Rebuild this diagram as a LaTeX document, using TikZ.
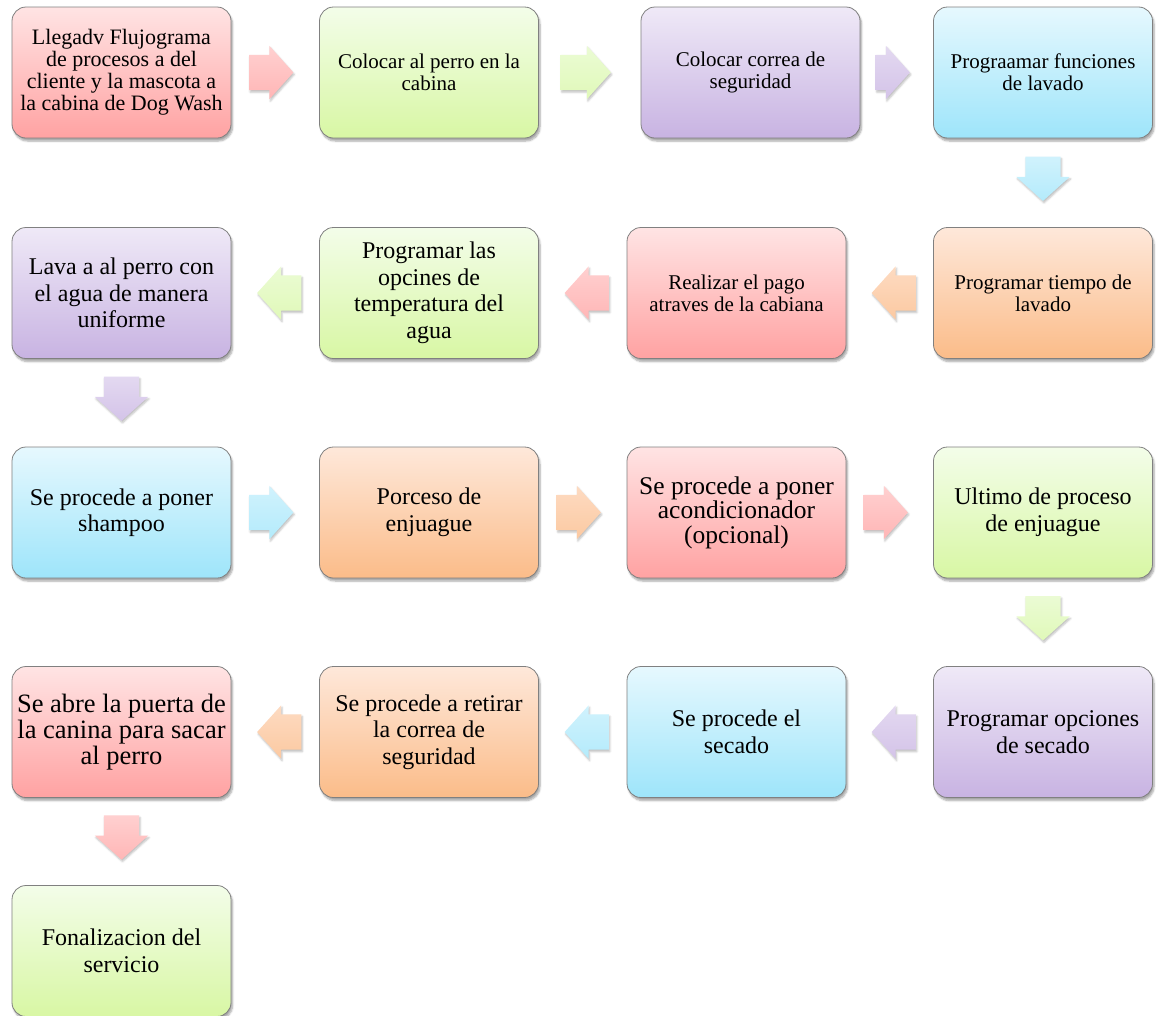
\documentclass[tikz,border=0pt]{standalone}
\usepackage{fontspec}
\setmainfont{Liberation Serif}
\usepackage{tikz}
\usetikzlibrary{positioning, calc, shapes.arrows, shadows.blur}
\usepackage{xcolor}

\definecolor{redtop}{HTML}{FFE4E4}
\definecolor{redbot}{HTML}{FFA2A2}
\definecolor{grntop}{HTML}{F3FDE9}
\definecolor{grnbot}{HTML}{D8F7A4}
\definecolor{purtop}{HTML}{EFE9F7}
\definecolor{purbot}{HTML}{C8B3E2}
\definecolor{blutop}{HTML}{E6F8FE}
\definecolor{blubot}{HTML}{9EE5FA}
\definecolor{orgtop}{HTML}{FEE8DA}
\definecolor{orgbot}{HTML}{FBBC89}

\tikzset{
  box/.style={draw=black!50, line width=0.8pt, rounded corners=14pt,
    minimum width=219pt, minimum height=131pt, inner sep=3pt, align=center,
    font=\fontsize{24}{26.5}\selectfont,
    blur shadow={shadow xshift=1.5pt, shadow yshift=-3pt, shadow blur steps=6, shadow opacity=35}},
  txtsm/.style={font=\fontsize{21}{22}\selectfont},
  txtfirst/.style={font=\fontsize{22}{22}\selectfont},
  txtlg/.style={font=\fontsize{25.5}{24.5}\selectfont},
  txtxl/.style={font=\fontsize{26.5}{26}\selectfont},
  redbox/.style={box, top color=redtop, bottom color=redbot},
  grnbox/.style={box, top color=grntop, bottom color=grnbot},
  purbox/.style={box, top color=purtop, bottom color=purbot},
  blubox/.style={box, top color=blutop, bottom color=blubot},
  orgbox/.style={box, top color=orgtop, bottom color=orgbot},
  % shaft 35 wide, head 53 wide, head about 24 long
  arr/.style={single arrow, single arrow head extend=9pt, single arrow tip angle=96,
    inner xsep=14pt, inner ysep=17.5pt,
    blur shadow={shadow xshift=1pt, shadow yshift=-2pt, shadow blur steps=4, shadow opacity=25}},
  redarr/.style={arr, top color=redtop!70!redbot, bottom color=redbot!70!redtop},
  grnarr/.style={arr, top color=grntop!70!grnbot, bottom color=grnbot!70!grntop},
  purarr/.style={arr, top color=purtop!70!purbot, bottom color=purbot!70!purtop},
  bluarr/.style={arr, top color=blutop!70!blubot, bottom color=blubot!70!blutop},
  orgarr/.style={arr, top color=orgtop!70!orgbot, bottom color=orgbot!70!orgtop},
  toright/.style={xshift=-12pt},
  toleft/.style={shape border rotate=180, xshift=12pt},
  todown/.style={shape border rotate=270, inner xsep=17.5pt, inner ysep=14pt, yshift=12pt},
}

\begin{document}
\begin{tikzpicture}[x=1pt, y=-1pt]
    \useasboundingbox (0,0) rectangle (1156,1015);

    % Row 1
    \node[redbox, txtfirst] (b1) at (121.5,72.5) {Llegadv Flujograma\\de procesos a del\\cliente y la mascota a\\la cabina de Dog Wash};
    \node[grnbox, txtsm] (b2) at (429,72.5) {Colocar al perro en la\\cabina};
    \node[purbox, txtsm] (b3) at (750.5,72.5) {Colocar correa de\\seguridad};
    \node[blubox, txtsm] (b4) at (1043,72.5) {Prograamar funciones\\de lavado};

    % Row 2
    \node[orgbox, txtsm] (b5) at (1043,293) {Programar tiempo de\\lavado};
    \node[redbox, txtsm] (b6) at (736.5,293) {Realizar el pago\\atraves de la cabiana};
    \node[grnbox] (b7) at (429,293) {Programar las\\opcines de\\temperatura del\\agua};
    \node[purbox] (b8) at (121.5,293) {Lava a al perro con\\el agua de manera\\uniforme};

    % Row 3
    \node[blubox] (b9) at (121.5,512.5) {Se procede a poner\\shampoo};
    \node[orgbox] (b10) at (429,512.5) {Porceso de\\enjuague};
    \node[redbox, txtlg] (b11) at (736.5,512.5) {Se procede a poner\\acondicionador\\(opcional)};
    \node[grnbox] (b12) at (1043,512.5) {Ultimo de proceso\\de enjuague};

    % Row 4
    \node[purbox] (b13) at (1043,732) {Programar opciones\\de secado};
    \node[blubox] (b14) at (736.5,732) {Se procede el\\secado};
    \node[orgbox] (b15) at (429,732) {Se procede a retirar\\la correa de\\seguridad};
    \node[redbox, txtxl] (b16) at (121.5,732) {Se abre la puerta de\\la canina para sacar\\al perro};

    % Row 5
    \node[grnbox] (b17) at (121.5,951) {Fonalizacion del\\servicio};

    % Block arrows
    \node[redarr, toright] (a1) at ($(b1.east)!0.5!(b2.west)$) {};
    \node[grnarr, toright, inner xsep=17pt] (a2) at ($(b2.east)!0.5!(b3.west)$) {};
    \node[purarr, toright, inner xsep=9pt] (a3) at ($(b3.east)!0.5!(b4.west)$) {};
    \node[bluarr, todown] (a4) at ($(b4.south)!0.5!(b5.north)$) {};
    \node[orgarr, toleft] (a5) at ($(b5.west)!0.5!(b6.east)$) {};
    \node[redarr, toleft] (a6) at ($(b6.west)!0.5!(b7.east)$) {};
    \node[grnarr, toleft] (a7) at ($(b7.west)!0.5!(b8.east)$) {};
    \node[purarr, todown] (a8) at ($(b8.south)!0.5!(b9.north)$) {};
    \node[bluarr, toright] (a9) at ($(b9.east)!0.5!(b10.west)$) {};
    \node[orgarr, toright] (a10) at ($(b10.east)!0.5!(b11.west)$) {};
    \node[redarr, toright] (a11) at ($(b11.east)!0.5!(b12.west)$) {};
    \node[grnarr, todown] (a12) at ($(b12.south)!0.5!(b13.north)$) {};
    \node[purarr, toleft] (a13) at ($(b13.west)!0.5!(b14.east)$) {};
    \node[bluarr, toleft] (a14) at ($(b14.west)!0.5!(b15.east)$) {};
    \node[orgarr, toleft] (a15) at ($(b15.west)!0.5!(b16.east)$) {};
    \node[redarr, todown] (a16) at ($(b16.south)!0.5!(b17.north)$) {};

\end{tikzpicture}
\end{document}
